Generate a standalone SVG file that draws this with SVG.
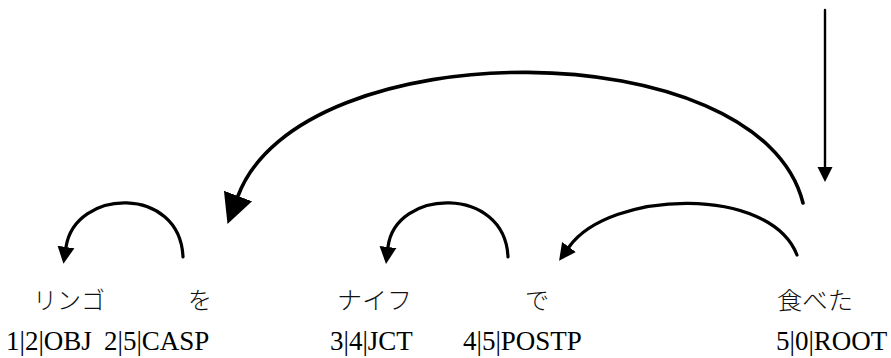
<svg xmlns="http://www.w3.org/2000/svg" width="891" height="358" viewBox="0 0 891 358">
<style>
.w{font-family:"Noto Sans CJK JP","Noto Sans",sans-serif;font-size:24px;fill:#111;font-weight:300}
.l{font-family:"Liberation Serif",serif;font-size:27px;fill:#000}
.c{fill:none;stroke:#000;stroke-width:3.2;stroke-linecap:round}
</style>
<defs>
<marker id="ah" viewBox="0 0 10 10" refX="0" refY="5" markerWidth="17" markerHeight="26" markerUnits="userSpaceOnUse" orient="auto"><path d="M0,0 L10,5 L0,10 z" fill="#000"/></marker>
<marker id="ahb" viewBox="0 0 10 10" refX="0" refY="5" markerWidth="30" markerHeight="44" markerUnits="userSpaceOnUse" orient="auto"><path d="M0,0 L10,5 L0,10 z" fill="#000"/></marker>
<marker id="ahv" viewBox="0 0 10 10" refX="0" refY="5" markerWidth="15" markerHeight="18" markerUnits="userSpaceOnUse" orient="auto"><path d="M0,0 L10,5 L0,10 z" fill="#000"/></marker>
</defs>
<rect width="891" height="358" fill="#fff"/>
<g id="connectors">
<path class="c" style="stroke-width:2.4" d="M825,10 L825,167" marker-end="url(#ahv)"/>
<path class="c" style="stroke-width:3.6" d="M803,203 C760,30 300,30 238,196" marker-end="url(#ahb)"/>
<path class="c" d="M183,257 C180,185 75,188 66,247" marker-end="url(#ah)"/>
<path class="c" d="M508,257 C505,185 395,188 388,247" marker-end="url(#ah)"/>
<path class="c" d="M797,255 C770,185 610,190 569,247" marker-end="url(#ah)"/>
</g>
<g id="n1"><text class="w" x="33" y="309" textLength="72" lengthAdjust="spacingAndGlyphs">リンゴ</text><text class="l" x="6" y="350">1|2|OBJ</text></g>
<g id="n2"><text class="w" x="188" y="309">を</text><text class="l" x="104" y="350">2|5|CASP</text></g>
<g id="n3"><text class="w" x="337" y="309" textLength="75" lengthAdjust="spacingAndGlyphs">ナイフ</text><text class="l" x="330" y="350">3|4|JCT</text></g>
<g id="n4"><text class="w" x="525" y="309">で</text><text class="l" x="463" y="350">4|5|POSTP</text></g>
<g id="n5"><text class="w" x="777" y="309" textLength="76" lengthAdjust="spacingAndGlyphs">食べた</text><text class="l" x="776" y="350">5|0|ROOT</text></g>
</svg>
